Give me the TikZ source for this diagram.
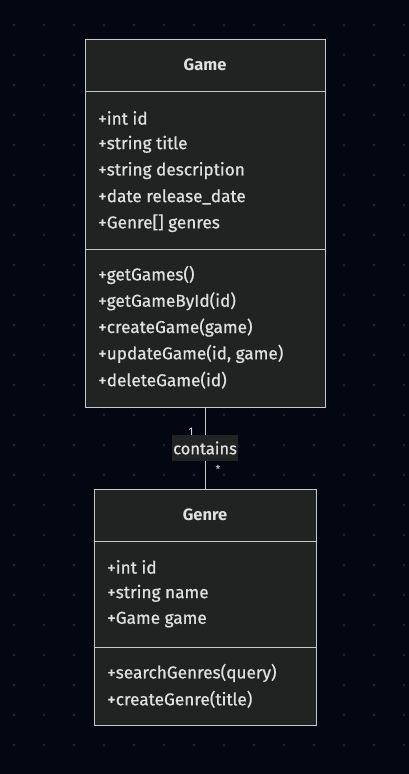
\documentclass[tikz,border=0pt]{standalone}
\usepackage{fontspec}
\setmainfont{Fira Sans}
\newfontfamily\memberfont{Fira Sans}[FakeBold=0.7]
\usetikzlibrary{positioning}

\definecolor{canvas}{HTML}{030712}
\definecolor{gridDot}{HTML}{1B202B}
\definecolor{boxFill}{HTML}{212222}
\definecolor{boxLine}{HTML}{C8C8C8}
\definecolor{textCol}{HTML}{E0E0E0}
\definecolor{labelFill}{HTML}{222323}

\tikzset{
  classbox/.style={draw=boxLine,fill=boxFill,line width=1pt,inner sep=0pt},
  divider/.style={draw=boxLine,line width=1pt},
  member/.style={anchor=west,text=textCol,inner sep=0pt,font=\memberfont\fontsize{17.2}{20}\selectfont},
  classname/.style={text=textCol,inner sep=0pt,font=\fontsize{16.5}{20}\selectfont\bfseries},
  assoc/.style={draw=boxLine,line width=1pt},
  mult/.style={text=textCol,inner sep=0pt,font=\fontsize{11}{13}\selectfont}
}

\begin{document}
\begin{tikzpicture}[x=1pt,y=-1pt]
  % background and dots
  \fill[canvas] (0,0) rectangle (409,774);
  \useasboundingbox (0,0) rectangle (409,774);
  \foreach \x in {14,44,...,404}
    \foreach \y in {25,55,...,745}
      \fill[gridDot] (\x,\y) circle (1.6);

  % Game class
  \node[classbox,minimum width=240pt,minimum height=368pt] (game) at (205,223) {};
  \node[classname] (gameName) at (205,65) {Game};
  \draw[divider] (85,91) -- (325,91);
  \draw[divider] (85,249) -- (325,249);
  \foreach \txt [count=\i] in {+int id,+string title,+string description,+date release\_date,+Genre[] genres}
    \node[member] (gameAttr\i) at (98,118+26.3*\i-26.3) {\txt};
  \foreach \txt [count=\i] in {+getGames(),+getGameById(id),+createGame(game),+updateGame(id{,} game),+deleteGame(id)}
    \node[member] (gameOp\i) at (98,275+26.3*\i-26.3) {\txt};

  % Genre class
  \node[classbox,minimum width=222pt,minimum height=236pt] (genre) at (205,607) {};
  \node[classname] (genreName) at (205,515) {Genre};
  \draw[divider] (94,541) -- (316,541);
  \draw[divider] (94,647) -- (316,647);
  \foreach \txt [count=\i] in {+int id,+string name,+Game game}
    \node[member] (genreAttr\i) at (107,567+26.3*\i-26.3) {\txt};
  \foreach \txt [count=\i] in {+searchGenres(query),+createGenre(title)}
    \node[member] (genreOp\i) at (107,673+26.3*\i-26.3) {\txt};

  % association
  \draw[assoc] (game.south) -- (genre.north);
  \node[fill=labelFill,text=textCol,inner sep=0pt,minimum width=66pt,minimum height=26pt,
        font=\memberfont\fontsize{16.5}{20}\selectfont] (containsLbl) at (205,448) {contains};
  \node[mult] (multOne) at (191,432) {1};
  \node[mult] (multMany) at (218,469) {*};
\end{tikzpicture}
\end{document}
